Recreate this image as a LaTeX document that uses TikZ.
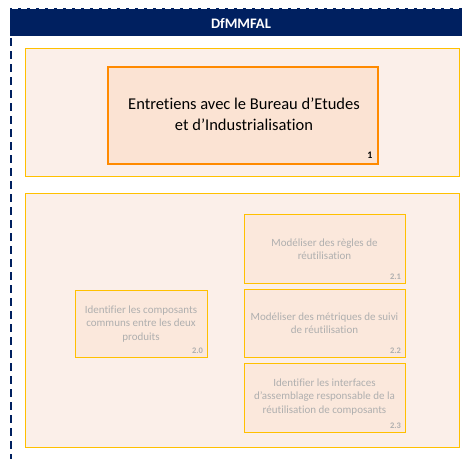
\documentclass[tikz,border=0pt]{standalone}
\usepackage{fontspec}
\setmainfont[Ligatures={NoCommon}]{Carlito}
\usetikzlibrary{calc}
\definecolor{navy}{HTML}{002060}
\definecolor{panelfill}{HTML}{FBEFE9}
\definecolor{gold}{HTML}{FFC000}
\definecolor{boxfill}{HTML}{FBE3D3}
\definecolor{orangeb}{HTML}{FF8A00}
\definecolor{greytext}{HTML}{AFAFAF}
\tikzset{
  panel/.style={draw=gold, line width=1pt, fill=panelfill},
  mainbox/.style={draw=orangeb, line width=1.6pt, fill=boxfill},
  subbox/.style={draw=gold, line width=1.2pt, fill=boxfill!60!panelfill},
  subtext/.style={text=greytext, font=\fontsize{11}{13.2}\selectfont, align=center},
  subnum/.style={text=greytext, font=\bfseries\fontsize{8.5}{9}\selectfont, anchor=south east, inner sep=1pt},
}
\begin{document}
\begin{tikzpicture}[x=1pt,y=-1pt]
\useasboundingbox (0,0) rectangle (462,459);
% header
\fill[navy] (10,8) rectangle (462,36);
\draw[white, line width=1pt, dash pattern=on 6pt off 3pt] (12,8.5) -- (462,8.5);
\node[text=white, font=\bfseries\fontsize{14.5}{16}\selectfont] (hdr) at (241,23) {DfMMFAL};
\draw[navy, line width=1.6pt, dash pattern=on 8pt off 5pt] (11,38) -- (11,459);
% panel 1
\draw[panel] (25,48) rectangle (459,176);
\node[mainbox, minimum width=270pt, minimum height=97pt, anchor=north west] (b1) at (107,66) {};
\node[font=\fontsize{16.5}{20.5}\selectfont, align=center] (t1) at (244,114)
  {Entretiens avec le Bureau d’Etudes\\et d’Industrialisation};
\node[font=\bfseries\fontsize{10}{11}\selectfont, anchor=south east, inner sep=1pt] (n1) at ($(b1.south east)+(-5,-5)$) {1};
% panel 2
\draw[panel] (25,193) rectangle (459,447);
\node[subbox, minimum width=132pt, minimum height=67pt, anchor=north west] (b20) at (75,290) {};
\node[subtext] (t20) at (141,324) {Identifier les composants\\communs entre les deux\\produits};
\node[subnum] (n20) at ($(b20.south east)+(-4,-3)$) {2.0};
\node[subbox, minimum width=161pt, minimum height=69pt, anchor=north west] (b21) at (244,214) {};
\node[subtext] (t21) at (324.5,249) {Modéliser des règles de\\réutilisation};
\node[subnum] (n21) at ($(b21.south east)+(-4,-3)$) {2.1};
\node[subbox, minimum width=161pt, minimum height=68pt, anchor=north west] (b22) at (244,289) {};
\node[subtext] (t22) at (324.5,323) {Modéliser des métriques de suivi\\de réutilisation};
\node[subnum] (n22) at ($(b22.south east)+(-4,-3)$) {2.2};
\node[subbox, minimum width=161pt, minimum height=69pt, anchor=north west] (b23) at (244,363) {};
\node[subtext] (t23) at (324.5,397) {Identifier les interfaces\\d’assemblage responsable de la\\réutilisation de composants};
\node[subnum] (n23) at ($(b23.south east)+(-4,-3)$) {2.3};
\end{tikzpicture}
\end{document}
